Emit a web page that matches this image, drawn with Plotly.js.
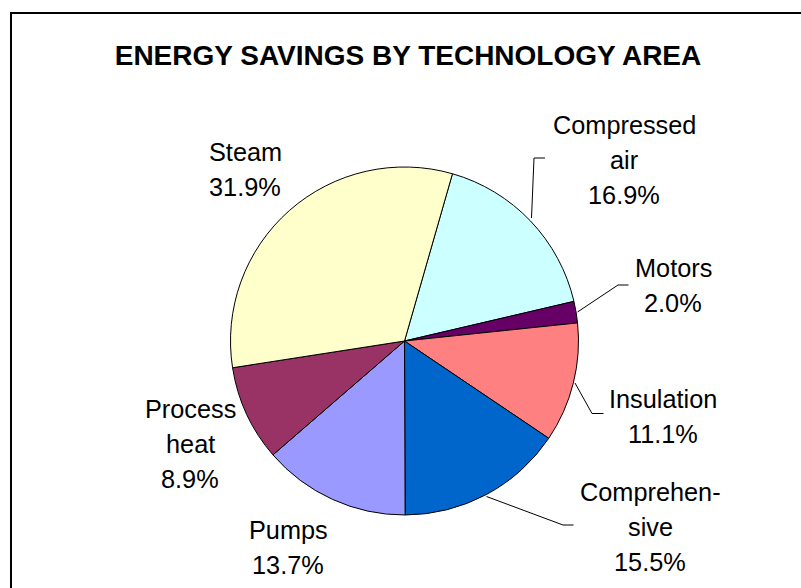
<!DOCTYPE html>
<html>
<head>
<meta charset="utf-8">
<script src="https://cdn.plot.ly/plotly-3.0.1.min.js"></script>
<style>html,body{margin:0;padding:0;background:#fff;}#chart{width:801px;height:588px;}</style>
</head>
<body>
<div id="chart"></div>
<script>
// ---- data ----
var categories = ["Compressed air", "Motors", "Insulation", "Comprehensive", "Pumps", "Process heat", "Steam"];
var labelLines = [["Compressed", "air"], ["Motors"], ["Insulation"], ["Comprehen-", "sive"], ["Pumps"], ["Process", "heat"], ["Steam"]];
var shares = [16.9, 2.0, 11.1, 15.5, 13.7, 8.9, 31.9];
var colors = ["#CCFFFF", "#660066", "#FF8080", "#0066CC", "#9999FF", "#993366", "#FFFFCC"];
var chartTitle = "ENERGY SAVINGS BY TECHNOLOGY AREA";

// ---- layout helpers (pixel -> paper) ----
var W = 801, H = 588;
function px(x) { return x / W; }
function py(y) { return 1 - y / H; }

var cx = 404.5, cy = 341, R = 174;

// label anchor: centre x, first-line baseline y (pixels)
var labelAnchor = [[624, 133], [673, 276], [663, 407], [650, 500], [288, 538], [190, 417], [245, 160]];
var lineGap = 35;
// leader lines (pixels)
var leaders = [
  [[531.5, 218], [534, 158], [545, 158]],
  [[577.5, 312], [618, 285], [628.5, 285]],
  [[575, 383], [592, 413.5], [603.5, 413.5]],
  [[486.5, 496.5], [563, 525], [573.5, 525]]
];

var annotations = [];
categories.forEach(function (c, i) {
  var lines = labelLines[i].concat([shares[i].toFixed(1) + "%"]);
  lines.forEach(function (t, k) {
    var base = labelAnchor[i][1] + k * lineGap;
    annotations.push({
      text: t, xref: "paper", yref: "paper",
      x: px(labelAnchor[i][0]), y: py(base - 8.5),
      xanchor: "center", yanchor: "middle", showarrow: false,
      font: {family: "Arial, Liberation Sans, sans-serif", size: 25.3, color: "#000"}
    });
  });
});

var shapes = [{
  type: "rect", xref: "paper", yref: "paper",
  x0: px(11), y0: py(13), x1: px(830), y1: py(620),
  line: {color: "#000", width: 2}, fillcolor: "rgba(0,0,0,0)"
}];
leaders.forEach(function (pts) {
  var d = pts.map(function (p, k) { return (k ? "L" : "M") + px(p[0]) + "," + py(p[1]); }).join(" ");
  shapes.push({type: "path", xref: "paper", yref: "paper", path: d, line: {color: "#000", width: 1}});
});

var trace = {
  type: "pie",
  labels: categories,
  values: shares,
  sort: false,
  direction: "clockwise",
  rotation: 16,
  textinfo: "none",
  hoverinfo: "label+percent",
  marker: {colors: colors, line: {color: "#000", width: 1}},
  domain: {x: [px(cx - R), px(cx + R)], y: [py(cy + R), py(cy - R)]},
  showlegend: false
};

var layout = {
  width: W, height: H,
  margin: {l: 0, r: 0, t: 0, b: 0},
  paper_bgcolor: "#fff",
  title: {
    text: "<b>" + chartTitle + "</b>",
    x: px(408), xanchor: "center", y: py(55), yanchor: "middle",
    font: {family: "Arial, Liberation Sans, sans-serif", size: 28, color: "#000"}
  },
  annotations: annotations,
  shapes: shapes
};

Plotly.newPlot("chart", [trace], layout, {displayModeBar: false, staticPlot: true});
</script>
</body>
</html>
